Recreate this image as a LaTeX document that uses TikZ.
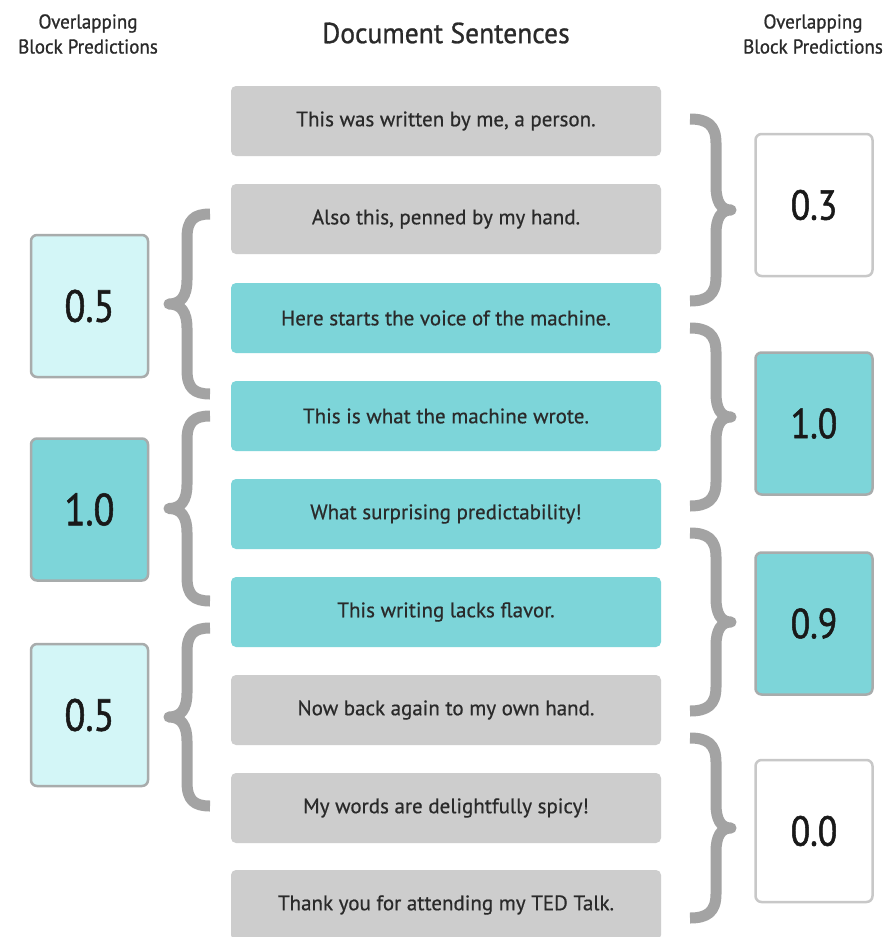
\documentclass[tikz,border=0pt]{standalone}
\usepackage{fontspec}
\setmainfont{PT Sans}
\newfontfamily\numfont[FakeStretch=0.85,FakeBold=1.2]{PT Sans}
\newfontfamily\txtfont[FakeBold=0.6]{PT Sans}
\newfontfamily\hdrfont[FakeBold=0.9,FakeStretch=0.95]{PT Sans}
\definecolor{sgray}{HTML}{CDCDCD}
\definecolor{steal}{HTML}{7DD5D9}
\definecolor{lcyan}{HTML}{D3F6F7}
\definecolor{bgray}{HTML}{A8ACAC}
\definecolor{wgray}{HTML}{C8C8C8}
\definecolor{brcol}{HTML}{A3A3A3}
\definecolor{txt}{HTML}{2A2A2A}
\newcommand\leftbrk[2]{%
  \pgfmathsetmacro\ym{(#1+#2)/2}%
  \draw[brc] (210,#1) .. controls (194,#1) and (187,#1+6) .. (187,#1+24)
    -- (187,\ym-24) .. controls (187,\ym-8) and (181,\ym) .. (169,\ym)
    .. controls (181,\ym) and (187,\ym+8) .. (187,\ym+24)
    -- (187,#2-24) .. controls (187,#2-6) and (194,#2) .. (210,#2);}
\newcommand\rightbrk[2]{%
  \pgfmathsetmacro\ym{(#1+#2)/2}%
  \draw[brc] (690,#1) .. controls (707,#1) and (716,#1+6) .. (716,#1+24)
    -- (716,\ym-24) .. controls (716,\ym-8) and (721,\ym) .. (731,\ym)
    .. controls (721,\ym) and (716,\ym+8) .. (716,\ym+24)
    -- (716,#2-24) .. controls (716,#2-6) and (707,#2) .. (690,#2);}
\begin{document}
\begin{tikzpicture}[x=1pt,y=-1pt,
  sent/.style={rounded corners=5pt,minimum width=430pt,minimum height=70pt,inner sep=0pt,
    font=\txtfont\fontsize{21}{24}\selectfont,text=txt},
  grayS/.style={sent,fill=sgray},
  tealS/.style={sent,fill=steal},
  score/.style={draw=bgray,line width=2.5pt,rounded corners=6pt,minimum width=117pt,
    minimum height=142pt,inner sep=0pt,font=\numfont\fontsize{45}{50}\selectfont,text=black!90},
  rscore/.style={score,font=\numfont\fontsize{42}{46}\selectfont},
  hdr/.style={font=\hdrfont\fontsize{20}{25}\selectfont,text=txt,align=center,inner sep=0pt},
  brc/.style={draw=brcol,line width=11pt,line join=round}]
\useasboundingbox (0,0) rectangle (883,937);
\fill[white] (0,0) rectangle (883,937);
% headers
\node[hdr] (hl) at (88,34) {Overlapping\\Block Predictions};
\node[hdr,font=\hdrfont\fontsize{29}{31}\selectfont] (hc) at (446,33) {Document Sentences};
\node[hdr] (hr) at (813,34) {Overlapping\\Block Predictions};
% sentences
\node[grayS] (s1) at (446,121) {This was written by me, a person.};
\node[grayS] (s2) at (446,219) {Also this, penned by my hand.};
\node[tealS] (s3) at (446,318) {Here starts the voice of the machine.};
\node[tealS] (s4) at (446,416) {This is what the machine wrote.};
\node[tealS] (s5) at (446,514) {What surprising predictability!};
\node[tealS] (s6) at (446,612) {This writing lacks flavor.};
\node[grayS] (s7) at (446,710) {Now back again to my own hand.};
\node[grayS] (s8) at (446,808) {My words are delightfully spicy!};
\node[grayS] (s9) at (446,905) {Thank you for attending my TED Talk.};
% left scores
\node[score,fill=lcyan] (l1) at (89.5,306) {0.5};
\node[score,fill=steal] (l2) at (89.5,509.5) {1.0};
\node[score,fill=lcyan] (l3) at (89.5,715) {0.5};
% right scores
\node[rscore,fill=white,draw=wgray] (r1) at (814,205) {0.3};
\node[rscore,fill=steal] (r2) at (814,423.5) {1.0};
\node[rscore,fill=steal] (r3) at (814,623.5) {0.9};
\node[rscore,fill=white,draw=wgray] (r4) at (814,831) {0.0};
% braces
\leftbrk{214}{394}
\leftbrk{416}{601}
\leftbrk{628}{806}
\rightbrk{119}{301}
\rightbrk{328}{506}
\rightbrk{533}{711}
\rightbrk{738}{918}
\end{tikzpicture}
\end{document}
